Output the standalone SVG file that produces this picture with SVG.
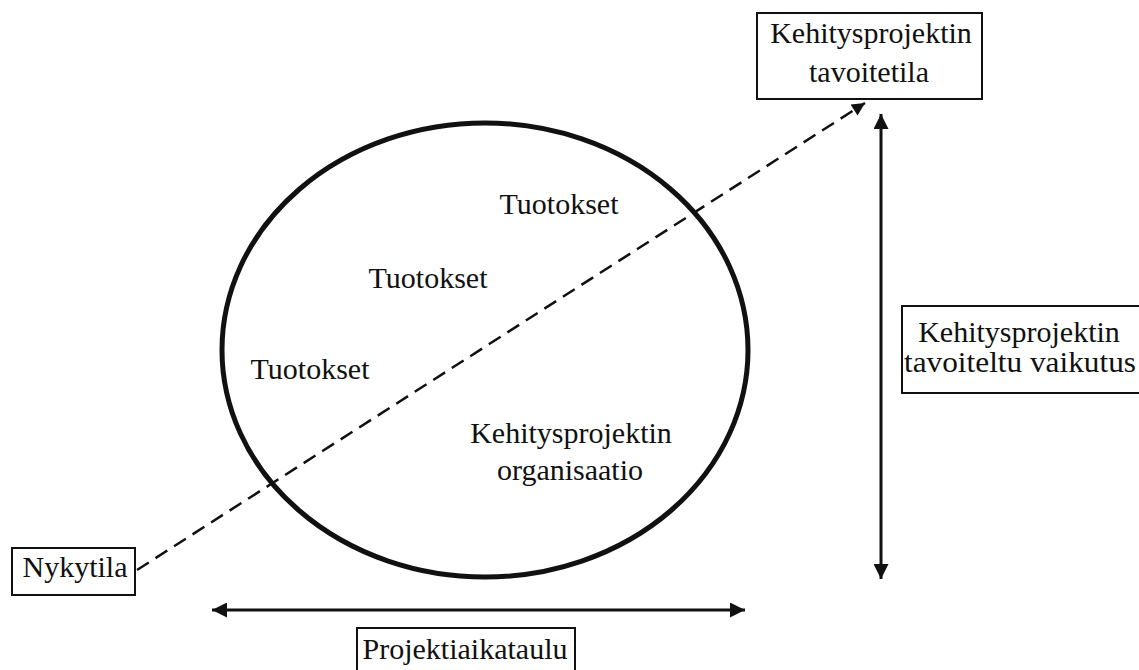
<svg xmlns="http://www.w3.org/2000/svg" width="1139" height="670" viewBox="0 0 1139 670">
<style>
  text { font-family: "Liberation Serif", "Times New Roman", serif; font-size: 30px; fill: #111; text-anchor: middle; }
  .box { fill: #fff; stroke: #111; stroke-width: 2; }
  .solid { stroke: #111; stroke-width: 3; fill: none; }
  .dash { stroke: #111; stroke-width: 2.5; fill: none; stroke-dasharray: 14 8; }
</style>
<defs>
  <marker id="ah" viewBox="0 0 10 10" refX="10" refY="5" markerUnits="userSpaceOnUse" markerWidth="16" markerHeight="15" orient="auto-start-reverse">
    <path d="M0,0 L10,5 L0,10 Z" fill="#111"/>
  </marker>
  <marker id="ahd" viewBox="0 0 10 10" refX="10" refY="5" markerUnits="userSpaceOnUse" markerWidth="17" markerHeight="13" orient="auto">
    <path d="M0,0 L10,5 L0,10 Z" fill="#111"/>
  </marker>
</defs>
<rect width="1139" height="670" fill="#fff"/>
<g id="organisation">
  <ellipse cx="485" cy="350" rx="263" ry="227" fill="none" stroke="#111" stroke-width="5"/>
  <text x="559" y="214">Tuotokset</text>
  <text x="428" y="288">Tuotokset</text>
  <text x="310" y="379">Tuotokset</text>
  <text x="571" y="443">Kehitysprojektin</text>
  <text x="570" y="480">organisaatio</text>
</g>
<g id="connectors">
  <line class="dash" x1="137" y1="570" x2="865" y2="103" marker-end="url(#ahd)"/>
  <line class="solid" x1="881" y1="114" x2="881" y2="579" marker-start="url(#ah)" marker-end="url(#ah)"/>
  <line class="solid" x1="212" y1="610" x2="745" y2="610" marker-start="url(#ah)" marker-end="url(#ah)"/>
</g>
<g id="target">
  <rect class="box" x="757" y="13" width="225" height="86"/>
  <text x="871" y="43">Kehitysprojektin</text>
  <text x="869" y="82">tavoitetila</text>
</g>
<g id="current">
  <rect class="box" x="12" y="548" width="123" height="47"/>
  <text x="75" y="577">Nykytila</text>
</g>
<g id="impact">
  <rect class="box" x="902" y="306" width="250" height="87"/>
  <text x="1019" y="342">Kehitysprojektin</text>
  <text x="1020" y="372" textLength="232" lengthAdjust="spacingAndGlyphs">tavoiteltu vaikutus</text>
</g>
<g id="schedule">
  <rect class="box" x="357" y="628" width="218" height="60"/>
  <text x="465" y="659">Projektiaikataulu</text>
</g>
</svg>
